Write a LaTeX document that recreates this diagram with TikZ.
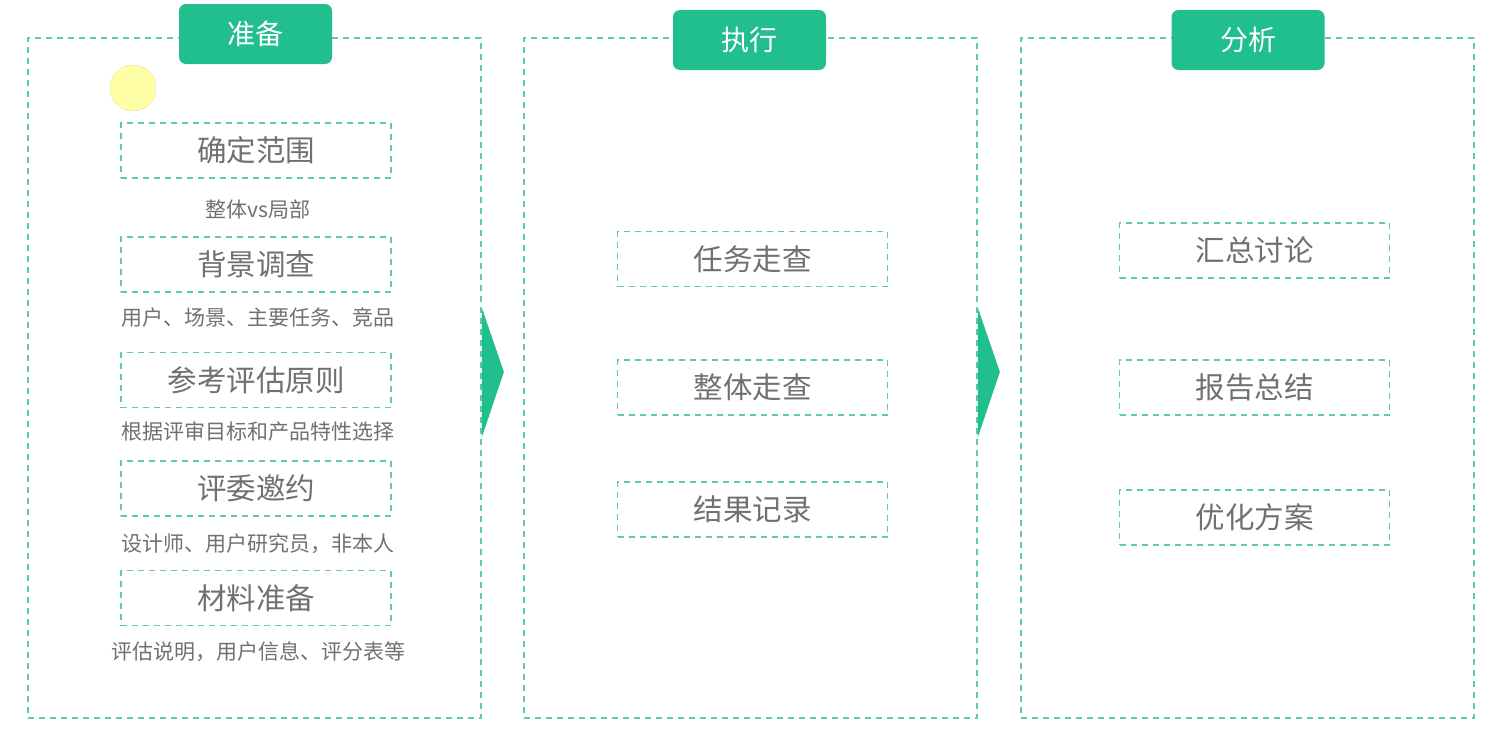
\documentclass[tikz,border=0pt]{standalone}
\usepackage{fontspec}
\setmainfont{Noto Sans CJK SC}
\usetikzlibrary{positioning}
\definecolor{tabgreen}{HTML}{22BF8E}
\definecolor{dashgreen}{HTML}{5CCBA6}
\definecolor{txtgray}{HTML}{707070}
\definecolor{hlyellow}{HTML}{FFFFA6}

\begin{document}
\begin{tikzpicture}[x=1pt, y=-1pt,
      panel/.style={draw=dashgreen, line width=1.8pt, dash pattern=on 6pt off 5pt,
                    minimum width=453pt, minimum height=680pt, inner sep=0pt},   % one column per phase
      tab/.style={fill=tabgreen, rounded corners=7pt, minimum width=153pt, minimum height=60pt,
                  text=white, font=\fontsize{28}{30}\selectfont},                % phase title
      stepbox/.style={draw=dashgreen, line width=1.8pt, dash pattern=on 6pt off 5pt,
                      minimum width=270pt, minimum height=55pt, inner sep=0pt,
                      text=txtgray, font=\fontsize{29.5}{31}\selectfont},        % one box per step
      note/.style={text=txtgray, font=\fontsize{21}{23}\selectfont, inner sep=0pt}]
    \useasboundingbox (0,0) rectangle (1508,734);
    \node[panel] (prep) at (254.5,378) {};
    \node[panel] (exec) at (750.5,378) {};
    \node[panel] (anal) at (1247.5,378) {};
    \node[tab] (preptab) at (255.5,34) {准备};
    \node[tab] (exectab) at (749.5,40) {执行};
    \node[tab] (analtab) at (1248,40) {分析};
    \node[circle, fill=hlyellow, draw=hlyellow!85!black, line width=0.3pt,
          minimum size=46pt] (marker) at (133,88) {};
    % preparation steps with their notes
    \foreach \n/\y/\yn/\t/\s in {1/150.5/209/{确定范围}/{整体vs局部},
                                 2/264.5/318/{背景调查}/{用户、场景、主要任务、竞品},
                                 3/380/432/{参考评估原则}/{根据评审目标和产品特性选择},
                                 4/488.5/544/{评委邀约}/{设计师、用户研究员，非本人},
                                 5/598/652/{材料准备}/{评估说明，用户信息、评分表等}} {
      \node[stepbox] (prep\n) at (256,\y) {\t};
      \node[note] (prepnote\n) at (258,\yn) {\s};
    }
    \foreach \n/\y/\t in {1/259/任务走查, 2/387.5/整体走查, 3/509.5/结果记录}
      \node[stepbox] (exec\n) at (752.5,\y) {\t};
    \foreach \n/\y/\t in {1/250.5/汇总讨论, 2/387.5/报告总结, 3/517.5/优化方案}
      \node[stepbox] (anal\n) at (1254.5,\y) {\t};
    % arrow heads between the columns
    \fill[tabgreen] (prep.east) ++(0,-70) -- ++(22,64) -- ++(-22,65) -- cycle;
    \fill[tabgreen] (exec.east) ++(0,-70) -- ++(22,64) -- ++(-22,65) -- cycle;
  \end{tikzpicture}
\end{document}
